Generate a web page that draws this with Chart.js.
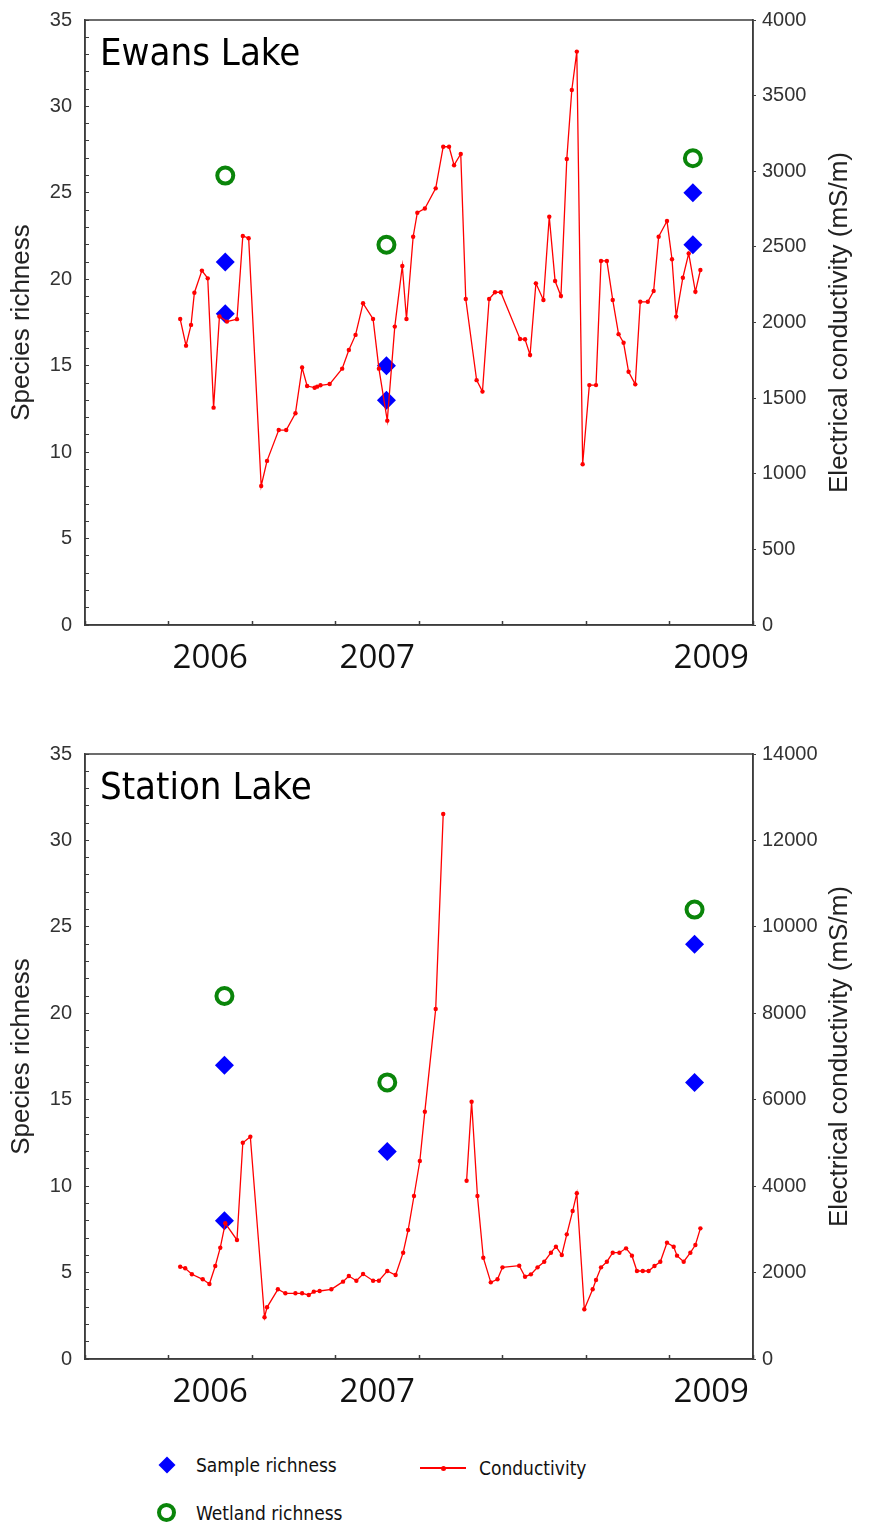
<!DOCTYPE html>
<html>
<head>
<meta charset="utf-8">
<title>Species richness and conductivity</title>
<script src="https://cdn.jsdelivr.net/npm/chart.js@4/dist/chart.umd.min.js"></script>
<style>
  body { margin: 0; background: #fff; }
  #wrap { position: relative; width: 877px; height: 1528px; }
  canvas { position: absolute; left: 0; }
  #c1 { top: 0; }
  #c2 { top: 734px; }
  .lg { position: absolute; font: 19px "DejaVu Sans Condensed", "DejaVu Sans", sans-serif; color: #111; line-height: 24px; white-space: nowrap; }
  .diamond { position: absolute; width: 12px; height: 12px; background: #0000ff; transform: rotate(45deg); }
  .ring { position: absolute; width: 19px; height: 19px; box-sizing: border-box; border: 4px solid #0a850a; border-radius: 50%; }
  .redline { position: absolute; height: 1.5px; background: #ff0000; }
  .reddot { position: absolute; width: 5px; height: 5px; border-radius: 50%; background: #ff0000; }
</style>
</head>
<body>
<div id="wrap">
  <canvas id="c1" width="877" height="700"></canvas>
  <canvas id="c2" width="877" height="700"></canvas>

  <div class="diamond" style="left:161px;top:1459px"></div>
  <div class="lg" style="left:196px;top:1453px">Sample richness</div>
  <div class="ring" style="left:157px;top:1503px"></div>
  <div class="lg" style="left:196px;top:1501px">Wetland richness</div>
  <div class="redline" style="left:420px;top:1467px;width:46px"></div>
  <div class="reddot" style="left:440.5px;top:1465.5px"></div>
  <div class="lg" style="left:479px;top:1456px">Conductivity</div>
</div>

<script>
// x axis runs 0..8 (tick marks at every whole unit), year labels sit between ticks
const tickPos = [0, 1, 2, 3, 4, 5, 6, 7, 8];
const yearPos = [1.5, 3.5, 7.5];
const yearLabels = ['2006', '2007', '2009'];

// Ewans Lake
const ewansCondX = [1.14, 1.21, 1.27, 1.31, 1.40, 1.47, 1.54, 1.61, 1.70, 1.82, 1.89, 1.96,
  2.11, 2.18, 2.32, 2.41, 2.52, 2.60, 2.66, 2.75, 2.78, 2.82, 2.93, 3.08, 3.16, 3.24, 3.33,
  3.45, 3.52, 3.62, 3.71, 3.80, 3.85, 3.93, 3.98, 4.07, 4.20, 4.29, 4.36, 4.42, 4.50, 4.56,
  4.69, 4.76, 4.84, 4.91, 4.98, 5.21, 5.27, 5.33, 5.40, 5.49, 5.56, 5.63, 5.70, 5.77, 5.83,
  5.89, 5.96, 6.04, 6.12, 6.18, 6.25, 6.32, 6.39, 6.45, 6.51, 6.59, 6.65, 6.74, 6.81, 6.87,
  6.97, 7.03, 7.08, 7.16, 7.23, 7.31, 7.37];
const ewansCond = [2023, 1847, 1984, 2197, 2343, 2292, 1437, 2040, 2006, 2022, 2572, 2557,
  919, 1085, 1289, 1289, 1400, 1702, 1580, 1569, 1576, 1585, 1593, 1695, 1818, 1918, 2127,
  2023, 1695, 1351, 1973, 2374, 2023, 2567, 2726, 2754, 2887, 3162, 3162, 3040, 3114, 2155,
  1619, 1543, 2155, 2200, 2200, 1891, 1889, 1785, 2259, 2149, 2699, 2274, 2175, 3081, 3537,
  3791, 1063, 1586, 1586, 2407, 2407, 2149, 1923, 1866, 1674, 1591, 2137, 2137, 2208, 2567,
  2671, 2418, 2039, 2296, 2457, 2203, 2347];
const ewansSampleX = [1.68, 1.68, 3.61, 3.61, 7.28, 7.28];
const ewansSample = [21, 18, 15, 13, 25, 22];
const ewansWetlandX = [1.68, 3.61, 7.28];
const ewansWetland = [26, 22, 27];

// Station Lake (null = break in the record)
const stationCondX = [1.14, 1.20, 1.28, 1.41, 1.49, 1.56, 1.62, 1.68, 1.82, 1.89, 1.98,
  2.15, 2.18, 2.31, 2.40, 2.52, 2.60, 2.68, 2.74, 2.81, 2.95, 3.09, 3.16, 3.25, 3.33, 3.45,
  3.52, 3.62, 3.72, 3.81, 3.87, 3.94, 4.01, 4.07, 4.20, 4.29, 4.35, 4.57, 4.63, 4.70, 4.77,
  4.86, 4.94, 5.00, 5.20, 5.27, 5.34, 5.42, 5.50, 5.58, 5.64, 5.71, 5.77, 5.84, 5.89, 5.98,
  6.08, 6.12, 6.18, 6.25, 6.32, 6.40, 6.48, 6.55, 6.61, 6.68, 6.75, 6.82, 6.89, 6.97, 7.05,
  7.09, 7.17, 7.25, 7.31, 7.37];
const stationCond = [2136, 2099, 1960, 1844, 1736, 2152, 2575, 3140, 2754, 5005, 5144,
  965, 1196, 1613, 1520, 1520, 1520, 1481, 1558, 1574, 1613, 1790, 1920, 1812, 1967, 1812,
  1812, 2036, 1944, 2460, 2985, 3772, 4582, 5723, 8100, 12612, null, 4125, 5954, 3771, 2344,
  1774, 1844, 2121, 2159, 1904, 1959, 2121, 2251, 2460, 2599, 2406, 2885, 3424, 3834, 1150,
  1613, 1828, 2121, 2251, 2460, 2460, 2561, 2391, 2036, 2036, 2036, 2152, 2251, 2692, 2599,
  2391, 2251, 2460, 2638, 3023];
const stationSampleX = [1.67, 1.67, 3.62, 7.30, 7.30];
const stationSample = [17, 8, 12, 24, 16];
const stationWetlandX = [1.67, 3.62, 7.30];
const stationWetland = [21, 16, 26];

const tickFont = { family: '"Liberation Sans", Arial, sans-serif', size: 20 };
const axisColor = '#3c3c3c';

const pairs = (xs, ys) => xs.map((x, i) => ({ x: x, y: ys[i] }));

// pin the plot box: fixed axis sizes and no extra label padding
const fixV = w => s => { s.width = w; s.paddingTop = 0; s.paddingBottom = 0; };
const fixH = h => s => { s.height = h; s.paddingLeft = 0; s.paddingRight = 0; };

// frame round the plot, lake name inside, right-hand axis title reading upwards
const framePlugin = {
  id: 'frame',
  afterDraw(chart, args, opts) {
    const ctx = chart.ctx;
    const a = chart.chartArea;
    ctx.save();
    ctx.strokeStyle = axisColor;
    ctx.lineWidth = 1.5;
    ctx.strokeRect(a.left, a.top, a.right - a.left, a.bottom - a.top);

    ctx.fillStyle = '#000';
    ctx.font = '38px "DejaVu Sans Condensed", "DejaVu Sans", sans-serif';
    ctx.textBaseline = 'alphabetic';
    ctx.fillText(opts.lake, a.left + 15, a.top + 45);

    const r = chart.scales.y2;
    ctx.translate(r.left + 87, (a.top + a.bottom) / 2);
    ctx.rotate(-Math.PI / 2);
    ctx.font = '26px "Liberation Sans", Arial, sans-serif';
    ctx.fillStyle = '#222';
    ctx.textAlign = 'center';
    ctx.textBaseline = 'middle';
    ctx.fillText('Electrical conductivity (mS/m)', 0, 0);
    ctx.restore();
  }
};

function makeChart(id, lake, condX, cond, sampleX, sample, wetX, wet, condMax, condStep) {
  const ctx = document.getElementById(id).getContext('2d');
  return new Chart(ctx, {
    type: 'scatter',
    data: {
      datasets: [{
        label: 'Conductivity',
        yAxisID: 'y2',
        data: pairs(condX, cond),
        showLine: true,
        spanGaps: false,
        borderColor: '#ff0000',
        borderWidth: 1.3,
        pointRadius: 2.2,
        pointBackgroundColor: '#ff0000',
        pointBorderWidth: 0
      }, {
        label: 'Sample richness',
        yAxisID: 'y',
        data: pairs(sampleX, sample),
        pointStyle: 'rectRot',
        pointRadius: 9.5,
        pointBackgroundColor: '#0000ff',
        pointBorderColor: '#0000ff',
        pointBorderWidth: 0
      }, {
        label: 'Wetland richness',
        yAxisID: 'y',
        data: pairs(wetX, wet),
        pointStyle: 'circle',
        pointRadius: 8,
        pointBackgroundColor: 'rgba(0,0,0,0)',
        pointBorderColor: '#0a850a',
        pointBorderWidth: 4
      }]
    },
    options: {
      responsive: false,
      animation: false,
      devicePixelRatio: 1,
      layout: { padding: { top: 20, left: 0, right: 0, bottom: 0 } },
      plugins: {
        legend: { display: false },
        tooltip: { enabled: false },
        frame: { lake: lake }
      },
      scales: {
        x: {
          type: 'linear',
          min: 0,
          max: 8,
          afterBuildTicks: s => {
            s.ticks = tickPos.concat(yearPos).sort((a, b) => a - b).map(v => ({ value: v }));
          },
          afterFit: fixH(75),
          grid: {
            drawOnChartArea: false,
            tickLength: -4,
            tickWidth: 1.5,
            tickColor: c => Number.isInteger(c.tick.value) ? axisColor : 'rgba(0,0,0,0)'
          },
          border: { color: axisColor, width: 1.5 },
          ticks: {
            autoSkip: false,
            maxRotation: 0,
            padding: 18,
            color: '#111',
            font: { family: '"Open Sans", sans-serif', size: 33 },
            callback: v => {
              const i = yearPos.indexOf(v);
              return i < 0 ? '' : yearLabels[i];
            }
          }
        },
        y: {
          position: 'left',
          min: 0,
          max: 35,
          afterFit: fixV(85),
          grid: { drawOnChartArea: false, tickLength: -4, tickColor: axisColor },
          border: { color: axisColor, width: 1.5 },
          ticks: {
            stepSize: 1,
            autoSkip: false,
            padding: 17,
            color: '#333',
            font: tickFont,
            callback: v => (v % 5 === 0 ? String(v) : '')
          },
          title: {
            display: true,
            text: 'Species richness',
            color: '#222',
            font: { family: '"Liberation Sans", Arial, sans-serif', size: 26 },
            padding: { top: 6, bottom: 0 }
          }
        },
        y2: {
          position: 'right',
          min: 0,
          max: condMax,
          afterFit: fixV(124),
          grid: { drawOnChartArea: false, tickLength: 3, tickColor: axisColor },
          border: { color: axisColor, width: 1.5 },
          ticks: {
            stepSize: condStep,
            autoSkip: false,
            padding: 6,
            color: '#333',
            font: tickFont,
            callback: v => String(v)
          }
        }
      }
    },
    plugins: [framePlugin]
  });
}

makeChart('c1', 'Ewans Lake', ewansCondX, ewansCond, ewansSampleX, ewansSample,
  ewansWetlandX, ewansWetland, 4000, 500);
makeChart('c2', 'Station Lake', stationCondX, stationCond, stationSampleX, stationSample,
  stationWetlandX, stationWetland, 14000, 2000);
</script>
</body>
</html>
